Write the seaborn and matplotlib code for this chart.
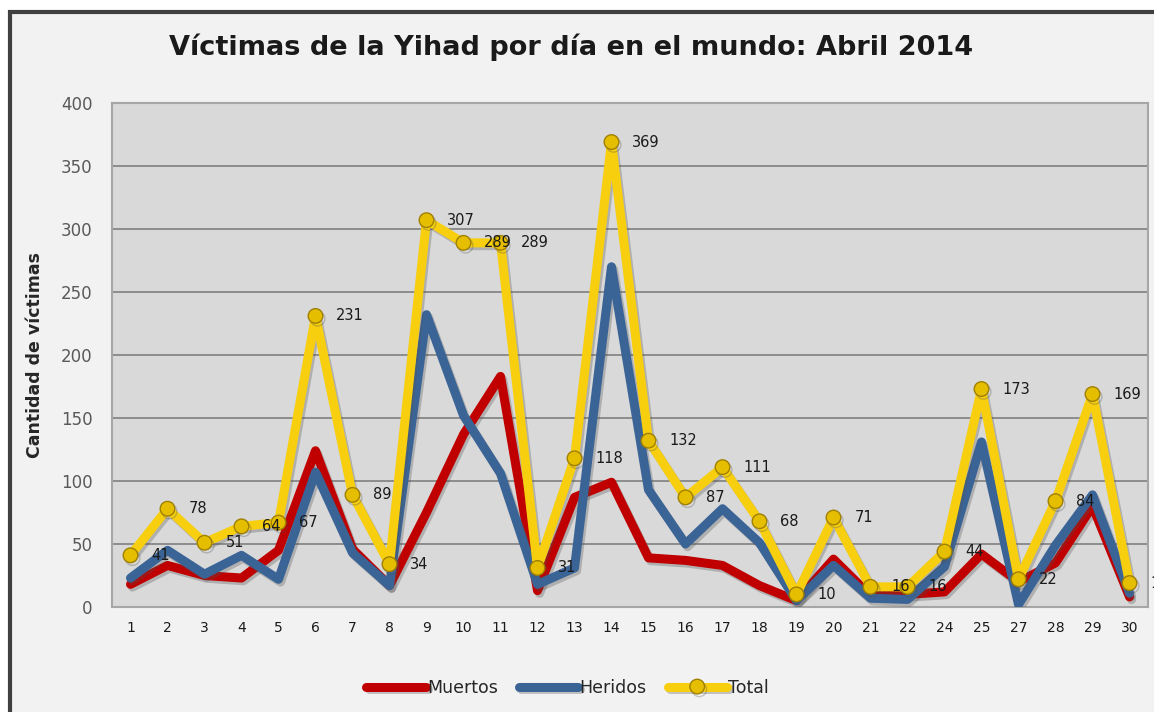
import pandas as pd
import matplotlib.pyplot as plt
import matplotlib.patheffects as pe
from matplotlib.patches import Rectangle
import seaborn as sns

# Data
dias = ['1', '2', '3', '4', '5', '6', '7', '8', '9', '10', '11', '12', '13', '14',
        '15', '16', '17', '18', '19', '20', '21', '22', '24', '25', '27', '28', '29', '30']
muertos = [18, 33, 25, 23, 45, 124, 46, 17, 75, 137, 183, 13, 87, 99,
           39, 37, 33, 17, 5, 38, 9, 10, 12, 42, 20, 35, 80, 8]
heridos = [23, 45, 26, 41, 22, 107, 43, 17, 232, 152, 106, 18, 31, 270,
           93, 50, 78, 51, 5, 33, 7, 6, 32, 131, 2, 49, 89, 11]
total = [41, 78, 51, 64, 67, 231, 89, 34, 307, 289, 289, 31, 118, 369,
         132, 87, 111, 68, 10, 71, 16, 16, 44, 173, 22, 84, 169, 19]

df = pd.DataFrame({'Dia': dias, 'Muertos': muertos, 'Heridos': heridos, 'Total': total})

sns.set_style('white')
plt.rcParams['font.family'] = ['DejaVu Sans']

fig = plt.figure(figsize=(11.54, 7.12), dpi=100, facecolor='white')
# chart frame (image is cropped at right/bottom)
frame = Rectangle((10 / 1154, -0.1), 1.2, 1.1 - 12 / 712, transform=fig.transFigure,
                  facecolor='#f2f2f2', edgecolor='#404040', lw=3, zorder=-10)
fig.patches.append(frame)

ax = fig.add_axes([112 / 1154, 1 - 607 / 712, (1148 - 112) / 1154, (607 - 103) / 712])
ax.set_zorder(1)
ax.set_facecolor('#d9d9d9')

shadow = [pe.SimpleLineShadow(offset=(1.5, -2), alpha=0.3, shadow_color='#505050'), pe.Normal()]

sns.lineplot(data=df, x='Dia', y='Muertos', ax=ax, color='#c00000', lw=6.5, sort=False,
             path_effects=shadow, label='Muertos', zorder=3)
sns.lineplot(data=df, x='Dia', y='Heridos', ax=ax, color='#3b6496', lw=6.5, sort=False,
             path_effects=shadow, label='Heridos', zorder=4)
sns.lineplot(data=df, x='Dia', y='Total', ax=ax, color='#f7cf0f', lw=6.5, sort=False,
             marker='o', markersize=10.5, markerfacecolor='#e6be00', markeredgecolor='#a08000',
             markeredgewidth=1, path_effects=shadow, label='Total', zorder=5)

# data labels for Total
for i, v in enumerate(total):
    ax.annotate(str(v), (i, v), xytext=(15, 0), textcoords='offset points',
                ha='left', va='center', fontsize=10.5, color='#1a1a1a', zorder=6,
                annotation_clip=False)

ax.set_ylim(0, 400)
ax.set_xlim(-0.5, len(dias) - 0.5)
ax.set_yticks(range(0, 401, 50))
ax.yaxis.grid(True, color='#808080', lw=1.2)
ax.set_axisbelow(True)
ax.tick_params(axis='y', labelsize=12, labelcolor='#595959', length=0, pad=14)
ax.tick_params(axis='x', labelsize=10, labelcolor='#1a1a1a', length=0, pad=10)
for s in ax.spines.values():
    s.set_color('#a6a6a6')
    s.set_linewidth(1.5)

ax.set_xlabel('')
ax.set_ylabel('Cantidad de víctimas', fontsize=12.5, fontweight='bold', color='#262626', labelpad=12)

fig.text(0.495, 1 - 47 / 712, 'Víctimas de la Yihad por día en el mundo: Abril 2014',
         ha='center', va='center', fontsize=19.5, fontweight='bold', color='#1a1a1a')

ax.legend(loc='center', bbox_to_anchor=(0.44, -0.16), ncol=3, frameon=False,
          fontsize=12.5, handlelength=3.4, columnspacing=1.2, handletextpad=0.1)

plt.savefig('out.png', dpi=100, facecolor=fig.get_facecolor())
